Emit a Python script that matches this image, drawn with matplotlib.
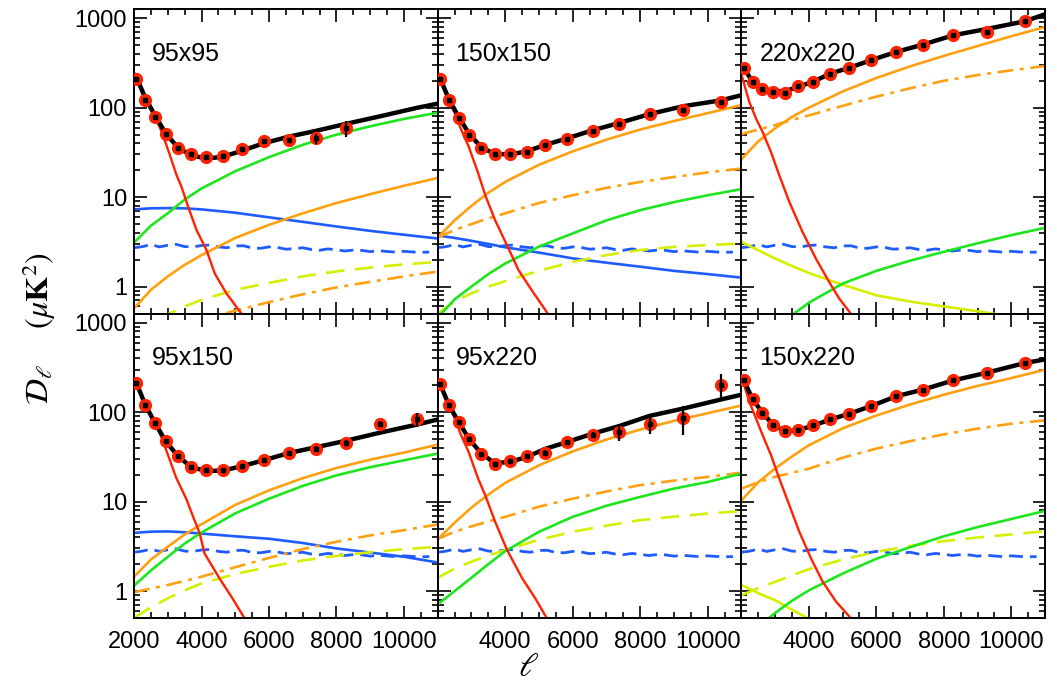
import matplotlib
matplotlib.use('Agg')
import matplotlib.pyplot as plt
from matplotlib.ticker import FixedLocator, MultipleLocator, NullFormatter, FuncFormatter

plt.rcParams['font.family'] = ['Liberation Sans', 'DejaVu Sans']
plt.rcParams['mathtext.fontset'] = 'stix'

# ---------------- data ----------------
panel_labels = ['95x95', '150x150', '220x220', '95x150', '95x220', '150x220']

ell_grid = [2000, 2500, 3000, 3500, 4000, 5000, 6000, 7000, 8000, 9000, 10000, 11000]
ell_bins = [2068, 2330, 2620, 2935, 3295, 3690, 4135, 4635, 5190, 5840, 6590, 7380, 8280, 9280, 10400]
ell_tot = [2000, 2068, 2330, 2620, 2935, 3295, 3690, 4135, 4635, 5190, 5840, 6590, 7380, 8280, 9280, 10400, 11000]

# binned band powers and errors
data_95x95 = [212, 123, 79, 51, 35.9, 30.2, 28.0, 29.2, 34.4, 42.2, 43.4, 45.3, 59.6]
err_95x95 = [3, 2, 1.5, 1, 1, 1, 1, 1.2, 1.5, 2, 3, 6, 12]
data_150x150 = [210, 121, 77.6, 50.1, 35.9, 30.0, 30.0, 32.1, 38.4, 45.2, 55.6, 66.5, 85.3, 95.4, 117]
err_150x150 = [3, 2, 1.5, 1, 0.8, 0.7, 0.7, 0.8, 1, 1.2, 1.5, 2, 2.5, 3, 4]
data_220x220 = [279, 196, 164, 150, 148, 175, 194, 241, 279, 340, 421, 508, 646, 698, 926]
err_220x220 = [5, 4, 3, 3, 3, 3, 4, 5, 6, 8, 10, 14, 20, 30, 45]
data_95x150 = [214, 122, 76.4, 47.7, 32.5, 24.5, 22.5, 22.5, 24.9, 29.0, 35.1, 39.2, 45.7, 74.5, 83.3]
err_95x150 = [3, 2, 1.5, 1, 0.8, 0.7, 0.7, 0.8, 1, 1.3, 1.8, 2.5, 3.5, 6, 15]
data_95x220 = [208, 121, 77.8, 49.8, 34.5, 26.6, 28.3, 32.2, 35.4, 46.5, 56.2, 60.1, 74.5, 86.2, 203]
err_95x220 = [3, 2, 1.5, 1, 1, 1, 1.2, 1.5, 2, 3, 4.5, 12, 17, 31, 63]
data_150x220 = [227, 142, 98.9, 72.6, 61.2, 63.9, 71.4, 83.3, 96.4, 117, 151, 179, 227, 277, 355]
err_150x220 = [3, 2, 1.5, 1.2, 1, 1, 1.2, 1.5, 2, 2.5, 3, 4, 5, 7, 10]

# total model (black)
tot_95x95 = [240, 220, 130, 82, 52, 36, 29.5, 27, 28.3, 33, 40, 47.5, 55, 66, 80, 100, 111]
tot_150x150 = [240, 215, 125, 79, 51, 36, 30.5, 30, 32.5, 38.5, 45.5, 56, 67.5, 85, 104, 121, 138]
tot_220x220 = [295, 279, 196, 164, 153, 153, 172, 196, 241, 279, 340, 421, 508, 646, 760, 926, 1109]
tot_95x150 = [227, 214, 122, 76, 47.7, 32.5, 24.5, 22.0, 22.3, 24.9, 29, 35, 40.5, 48, 59, 73, 83]
tot_95x220 = [227, 208, 121, 78, 50, 34.5, 27, 27.8, 31.6, 39, 46.5, 57.6, 70, 91, 110, 139, 157]
tot_150x220 = [240, 227, 142, 99, 72.6, 61, 63, 71, 83, 96, 117, 151, 179, 227, 277, 355, 390]

# lensed CMB (red)
cmb_ell_95x95 = [2000, 2060, 2200, 2325, 2480, 2620, 2818, 3013, 3261, 3409, 3604, 3852, 4148, 4393, 4738, 5181, 5500]
cmb_95x95 = [240, 212, 160, 124, 98, 79, 54, 33.5, 17.6, 13.0, 7.8, 4.3, 2.56, 1.40, 0.84, 0.50, 0.35]
cmb_ell_150x150 = [2000, 2060, 2200, 2325, 2522, 2670, 2916, 3200, 3409, 3704, 4099, 4394, 4788, 5261, 5500]
cmb_150x150 = [240, 215, 155, 118, 85, 60, 37, 18.5, 10.5, 5.5, 2.67, 1.53, 0.91, 0.5, 0.38]
cmb_ell_220x220 = [2000, 2021, 2236, 2434, 2629, 2877, 3122, 3418, 3811, 4207, 4600, 4895, 5240, 5500]
cmb_220x220 = [232, 221, 116, 75.7, 53.7, 32, 17.6, 8.9, 4.09, 2.06, 1.13, 0.74, 0.5, 0.38]
cmb_ell_95x150 = [2000, 2060, 2200, 2330, 2480, 2620, 2820, 3010, 3250, 3547, 3750, 3941, 4089, 4532, 4900, 5271, 5500]
cmb_95x150 = [230, 214, 160, 122, 96, 76, 52, 33, 18.5, 10.8, 6.8, 4.5, 2.64, 1.39, 0.85, 0.5, 0.38]
cmb_ell_95x220 = [2000, 2060, 2200, 2330, 2522, 2670, 2916, 3200, 3409, 3700, 4049, 4500, 4900, 5231, 5500]
cmb_95x220 = [230, 208, 155, 118, 84, 58, 36, 18, 11.8, 6.0, 2.92, 1.4, 0.82, 0.5, 0.38]
cmb_ell_150x220 = [2000, 2038, 2236, 2434, 2629, 2877, 3122, 3418, 3713, 4059, 4402, 4797, 5240, 5500]
cmb_150x220 = [235, 227, 131, 85, 55.5, 33.2, 18.2, 9.2, 4.64, 2.34, 1.29, 0.77, 0.5, 0.38]

# foreground components on ell_grid
green_95x95 = [3.1, 4.8, 6.6, 9.4, 12.5, 19.5, 28, 38.5, 50, 62, 75, 88]
green_150x150 = [0.45, 0.72, 1.0, 1.38, 1.81, 2.8, 3.93, 5.5, 7.16, 8.8, 10.5, 12.3]
green_220x220 = [0.2, 0.3, 0.38, 0.48, 0.66, 1.08, 1.5, 1.95, 2.45, 3.05, 3.76, 4.54]
green_95x150 = [1.15, 1.7, 2.42, 3.4, 4.52, 7.4, 10.8, 15, 19.7, 24.3, 29, 34.5]
green_95x220 = [0.71, 1.0, 1.41, 2.0, 2.8, 4.6, 6.77, 9.0, 11.3, 14, 16.6, 20.6]
green_150x220 = [0.26, 0.4, 0.57, 0.78, 1.02, 1.57, 2.3, 3.1, 4.1, 5.2, 6.4, 7.89]

orange_95x95 = [0.57, 0.92, 1.3, 1.75, 2.25, 3.5, 4.9, 6.6, 8.6, 10.8, 13.4, 16.4]
orange_150x150 = [3.54, 5.5, 8.0, 11.2, 14.8, 23, 32.5, 44, 57, 71, 87, 107]
orange_220x220 = [26.5, 42, 59, 79, 100, 152, 215, 290, 380, 490, 630, 800]
orange_95x150 = [1.45, 2.25, 3.13, 4.3, 5.6, 9.2, 13.4, 18.3, 23.8, 29.5, 35.4, 43.4]
orange_95x220 = [3.81, 5.8, 8.6, 12.0, 16.2, 25.5, 36.5, 49.5, 64, 80, 97.5, 119]
orange_150x220 = [10.3, 16.5, 23.5, 32, 42.7, 66, 92, 122, 157, 197, 241, 299]

dashdot_95x95 = [0.2, 0.25, 0.3, 0.36, 0.42, 0.54, 0.67, 0.82, 0.98, 1.13, 1.3, 1.47]
dashdot_150x150 = [3.54, 4.3, 5.0, 5.8, 6.6, 8.6, 10.5, 12.7, 14.8, 16.8, 18.9, 20.9]
dashdot_220x220 = [50.6, 57, 64, 73, 82, 105, 133, 165, 200, 232, 262, 293]
dashdot_95x150 = [0.97, 1.07, 1.17, 1.3, 1.45, 1.85, 2.35, 2.95, 3.56, 4.2, 4.8, 5.56]
dashdot_95x220 = [3.85, 4.6, 5.3, 6.0, 6.77, 8.8, 10.8, 13, 15.3, 17.2, 18.9, 21.1]
dashdot_150x220 = [14.0, 16.5, 19, 21, 23.4, 31, 39.2, 47.5, 56.6, 65.5, 74.5, 81.2]

blue_95x95 = [7.3, 7.5, 7.55, 7.5, 7.3, 6.7, 5.95, 5.3, 4.7, 4.2, 3.8, 3.45]
blue_150x150 = [3.73, 3.5, 3.25, 3.0, 2.75, 2.4, 2.07, 1.85, 1.67, 1.5, 1.38, 1.26]
blue_95x150 = [4.48, 4.62, 4.65, 4.55, 4.4, 4.1, 3.85, 3.45, 3.0, 2.7, 2.42, 2.09]

ydash_95x95 = [0.3, 0.4, 0.49, 0.6, 0.71, 0.92, 1.1, 1.3, 1.48, 1.63, 1.77, 1.89]
ydash_150x150 = [0.5, 0.68, 0.84, 1.0, 1.15, 1.5, 1.89, 2.25, 2.56, 2.78, 2.91, 3.03]
ydash_95x150 = [0.5, 0.66, 0.83, 1.02, 1.22, 1.55, 1.87, 2.2, 2.48, 2.72, 2.94, 3.13]
ydash_95x220 = [1.41, 1.78, 2.13, 2.5, 2.87, 3.75, 4.6, 5.4, 6.21, 6.8, 7.37, 7.83]
ydash_150x220 = [0.9, 1.08, 1.27, 1.5, 1.76, 2.25, 2.75, 3.2, 3.62, 3.98, 4.3, 4.68]

ysolid_220x220 = [3.17, 2.55, 2.06, 1.7, 1.42, 1.05, 0.8, 0.68, 0.6, 0.53, 0.46, 0.4]
ysolid_150x220 = [1.17, 0.95, 0.79, 0.62, 0.49, 0.35, 0.27, 0.22, 0.18, 0.15, 0.13, 0.11]

# wiggly dashed blue component (same in all panels)
ell_noise = list(range(2000, 10751, 250))
noise_dash = [2.72, 2.80, 2.95, 2.78, 2.90, 2.97, 2.80, 2.78, 2.88, 2.92, 2.78, 2.72,
              2.85, 2.86, 2.70, 2.68, 2.78, 2.74, 2.62, 2.66, 2.72, 2.60, 2.55, 2.64,
              2.58, 2.50, 2.56, 2.54, 2.46, 2.52, 2.47, 2.43, 2.48, 2.44, 2.42, 2.43]

panels = [
    dict(data=data_95x95, err=err_95x95, tot=tot_95x95, cmb_ell=cmb_ell_95x95, cmb=cmb_95x95,
         green=green_95x95, orange=orange_95x95, dashdot=dashdot_95x95, blue=blue_95x95,
         ydash=ydash_95x95, ysolid=None),
    dict(data=data_150x150, err=err_150x150, tot=tot_150x150, cmb_ell=cmb_ell_150x150, cmb=cmb_150x150,
         green=green_150x150, orange=orange_150x150, dashdot=dashdot_150x150, blue=blue_150x150,
         ydash=ydash_150x150, ysolid=None),
    dict(data=data_220x220, err=err_220x220, tot=tot_220x220, cmb_ell=cmb_ell_220x220, cmb=cmb_220x220,
         green=green_220x220, orange=orange_220x220, dashdot=dashdot_220x220, blue=None,
         ydash=None, ysolid=ysolid_220x220),
    dict(data=data_95x150, err=err_95x150, tot=tot_95x150, cmb_ell=cmb_ell_95x150, cmb=cmb_95x150,
         green=green_95x150, orange=orange_95x150, dashdot=dashdot_95x150, blue=blue_95x150,
         ydash=ydash_95x150, ysolid=None),
    dict(data=data_95x220, err=err_95x220, tot=tot_95x220, cmb_ell=cmb_ell_95x220, cmb=cmb_95x220,
         green=green_95x220, orange=orange_95x220, dashdot=dashdot_95x220, blue=None,
         ydash=ydash_95x220, ysolid=None),
    dict(data=data_150x220, err=err_150x220, tot=tot_150x220, cmb_ell=cmb_ell_150x220, cmb=cmb_150x220,
         green=green_150x220, orange=orange_150x220, dashdot=dashdot_150x220, blue=None,
         ydash=ydash_150x220, ysolid=ysolid_150x220),
]

# ---------------- style ----------------
C_RED = '#ff2200'
C_GREEN = '#1ee61e'
C_ORANGE = '#ffa010'
C_BLUE = '#1f5cff'
C_YELLOW = '#d4ef00'

fig = plt.figure(figsize=(10.57, 6.88), dpi=100)
gs = fig.add_gridspec(2, 3, left=0.1268, right=0.9887, top=0.9869, bottom=0.1017,
                      wspace=0, hspace=0)

for i, p in enumerate(panels):
    r, c = divmod(i, 3)
    ax = fig.add_subplot(gs[r, c])
    ax.set_yscale('log')
    ax.set_xlim(2000, 11000)
    ax.set_ylim(0.5, 1270)

    lw = 1.9
    ax.plot(ell_noise, noise_dash, color=C_BLUE, lw=2.0, dashes=(5, 2.5))
    if p['blue'] is not None:
        ax.plot(ell_grid, p['blue'], color=C_BLUE, lw=lw)
    if p['ydash'] is not None:
        ax.plot(ell_grid, p['ydash'], color=C_YELLOW, lw=lw, dashes=(7, 4))
    if p['ysolid'] is not None:
        ax.plot(ell_grid, p['ysolid'], color=C_YELLOW, lw=lw)
    ax.plot(ell_grid, p['dashdot'], color=C_ORANGE, lw=lw, dashes=(6, 2.5, 1.5, 2.5))
    ax.plot(ell_grid, p['green'], color=C_GREEN, lw=lw)
    ax.plot(ell_grid, p['orange'], color=C_ORANGE, lw=lw)
    ax.plot(p['cmb_ell'], p['cmb'], color=C_RED, lw=1.7)
    ax.plot(ell_tot, p['tot'], color='black', lw=3.2, solid_capstyle='butt')

    n = len(p['data'])
    xb = ell_bins[:n]
    ax.plot(xb, p['data'], 'o', ms=8.5, mfc=C_RED, mec=C_RED, zorder=5)
    ax.errorbar(xb, p['data'], yerr=p['err'], fmt='none', ecolor='black', elinewidth=1.6,
                capsize=0, zorder=6)
    ax.plot(xb, p['data'], 's', ms=2.6, mfc='black', mec='black', zorder=7)

    ax.text(0.059, 0.83, panel_labels[i], transform=ax.transAxes, fontsize=18,
            ha='left', va='baseline')

    # ticks
    ax.xaxis.set_major_locator(FixedLocator([2000, 4000, 6000, 8000, 10000]))
    ax.xaxis.set_minor_locator(MultipleLocator(500))
    ax.yaxis.set_major_locator(FixedLocator([1, 10, 100, 1000]))
    ax.yaxis.set_minor_locator(FixedLocator([m * 10 ** k for k in range(-1, 4) for m in range(2, 10)]))
    ax.yaxis.set_minor_formatter(NullFormatter())
    ax.tick_params(which='both', direction='in', top=True, right=True, width=1.2,
                   labelsize=17, colors='black')
    ax.tick_params(which='major', length=9)
    ax.tick_params(which='minor', length=4.5)
    ax.tick_params(axis='x', pad=9)
    ax.tick_params(axis='y', pad=5)
    for s in ax.spines.values():
        s.set_linewidth(1.4)

    if r == 1:
        if c == 0:
            ax.xaxis.set_major_formatter(FuncFormatter(lambda v, pos: '%d' % v))
        else:
            ax.xaxis.set_major_formatter(FuncFormatter(lambda v, pos: '' if v == 2000 else '%d' % v))
    else:
        ax.xaxis.set_major_formatter(NullFormatter())
    if c == 0:
        ax.yaxis.set_major_formatter(FuncFormatter(lambda v, pos: '%d' % v))
    else:
        ax.yaxis.set_major_formatter(NullFormatter())

fig.text(0.037, 1 - 328 / 688, r'$\mathcal{D}_{\ell}\quad\;\;(\mu\mathbf{K}^{2})$',
         rotation=90, ha='center', va='center', fontsize=23)
fig.text(0.5, 1 - 668 / 688, r'$\ell$', ha='center', va='center', fontsize=24)

fig.savefig('out.png', dpi=100)
